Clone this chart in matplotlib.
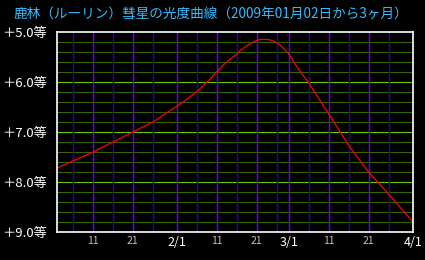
import matplotlib
matplotlib.use('Agg')
import matplotlib.pyplot as plt

plt.rcParams['font.family'] = ['Noto Sans CJK JP', 'DejaVu Sans']

title = '鹿林（ルーリン）彗星の光度曲線（2009年01月02日から3ヶ月）'

# days counted from 2009-01-02, magnitude
days = [0, 8.9, 18.9, 23.9, 28.3, 31.7, 35, 38.3, 40, 41.7, 43.3, 44.6, 45.8,
        47.5, 49.2, 50.4, 51.8, 53.3, 54.6, 55.8, 57.9, 60.4, 62.9, 65.4, 67.9,
        70.7, 72.9, 77.9, 80.3, 82.9, 89]
mags = [7.72, 7.40, 7.00, 6.80, 6.57, 6.39, 6.19, 5.94, 5.79, 5.65, 5.54, 5.46,
        5.37, 5.27, 5.19, 5.15, 5.14, 5.15, 5.19, 5.25, 5.42, 5.73, 6.00, 6.31,
        6.62, 6.97, 7.25, 7.79, 8.00, 8.23, 8.79]

x_ticks = [9, 19, 30, 40, 50, 58, 68, 78, 89]
x_labels = ['11', '21', '2/1', '11', '21', '3/1', '11', '21', '4/1']
y_ticks = [5, 6, 7, 8, 9]
y_labels = ['＋5.0等', '＋6.0等', '＋7.0等', '＋8.0等', '＋9.0等']

bright_days = [9, 19, 30, 40, 50, 58, 68, 78]
dim_days = [4, 14, 24, 35, 45, 55, 63, 73, 83]

W, H = 425, 260
fig = plt.figure(figsize=(W / 100, H / 100), dpi=100, facecolor='black')
ax = fig.add_axes([56.7 / W, (H - 232.3) / H, 356 / W, 200 / H], facecolor='black')

# horizontal grid every 0.2 mag, integer ones brighter
for i in range(1, 20):
  m = 5 + i * 0.2
  if i % 5 == 0:
    ax.axhline(m, color='#66cc00', lw=0.8, zorder=1)
  else:
    ax.axhline(m, color='#336600', lw=0.8, zorder=1)

for d in bright_days:
  ax.axvline(d, color='#6600ff', lw=1.05, zorder=2)
for d in dim_days:
  ax.axvline(d, color='#330099', lw=1.05, zorder=2)

ax.plot(days, mags, color='#ff0000', lw=0.9, zorder=3)

ax.set_xlim(0, 89)
ax.set_ylim(9, 5)

for s in ax.spines.values():
  s.set_color('white')
  s.set_linewidth(1.2)
  s.set_zorder(4)

ax.set_xticks(x_ticks, x_labels)
ax.set_yticks(y_ticks, y_labels)
ax.tick_params(axis='both', length=0)
ax.tick_params(axis='x', pad=3)
ax.tick_params(axis='y', pad=7, labelsize=9.5, colors='white')
for t in ax.get_xticklabels():
  if '/' in t.get_text():
    t.set_color('white')
    t.set_fontsize(9)
  else:
    t.set_color('#c0c0c0')
    t.set_fontsize(7.5)

fig.text(211 / W, 1 - 14 / H, title, color='#33bbff', fontsize=9.8,
         ha='center', va='center')

fig.savefig('out.png', dpi=100, facecolor='black')
